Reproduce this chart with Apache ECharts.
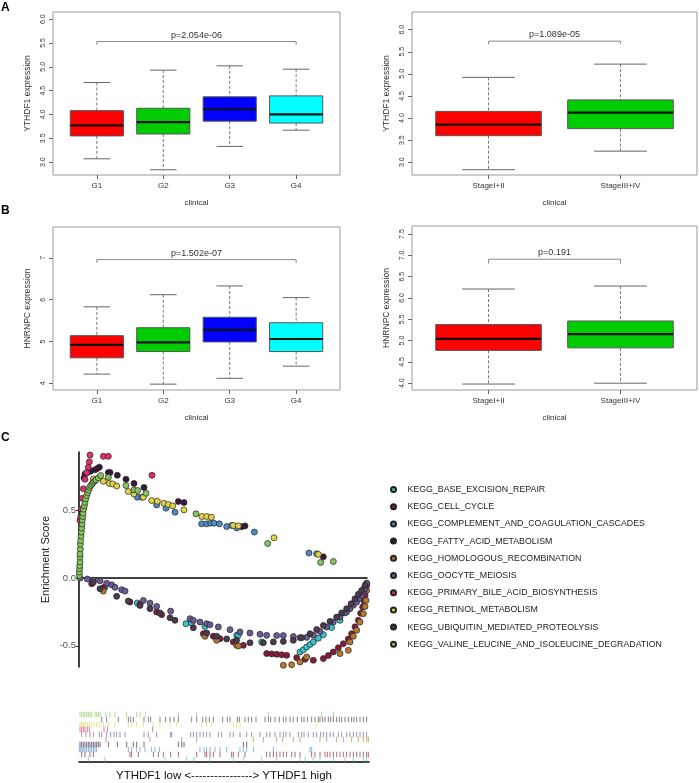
<!DOCTYPE html>
<html><head><meta charset="utf-8">
<script src="https://cdn.jsdelivr.net/npm/echarts@6/dist/echarts.min.js"></script>
<style>html,body{margin:0;padding:0;background:#fff}#c{width:699px;height:783px}</style>
</head><body><div id="c"></div>
<script>
// ---------------- DATA ----------------
const gradeCats = ['G1', 'G2', 'G3', 'G4'];
const stageCats = ['StageI+II', 'StageIII+IV'];
const gradeColors = ['#FF0000', '#00CD00', '#0000FF', '#00FFFF'];
const stageColors = ['#FF0000', '#00CD00'];
// [lower whisker, Q1, median, Q3, upper whisker]
const ythdf1Grade = [[3.07,3.55,3.77,4.08,4.67],[2.84,3.59,3.84,4.13,4.93],[3.33,3.86,4.11,4.37,5.02],[3.67,3.82,4.00,4.39,4.95]];
const ythdf1Stage = [[2.83,3.60,3.85,4.15,4.92],[3.25,3.76,4.12,4.41,5.22]];
const hnrnpcGrade = [[4.22,4.61,4.92,5.14,5.83],[3.98,4.76,4.98,5.33,6.12],[4.12,4.99,5.28,5.58,6.33],[4.41,4.76,5.06,5.45,6.05]];
const hnrnpcStage = [[3.98,4.77,5.04,5.375,6.21],[4.00,4.83,5.15,5.46,6.28]];
const pLabels = ['p=2.054e-06', 'p=1.089e-05', 'p=1.502e-07', 'p=0.191'];
const bracketY = [5.53, 5.74, 6.96, 6.91];
const bracketDrop = [5.46, 5.67, 6.88, 6.81];
const yTicksA = [3.0, 3.5, 4.0, 4.5, 5.0, 5.5, 6.0];
const yTicksBL = [4, 5, 6, 7];
const yTicksBR = [4.0, 4.5, 5.0, 5.5, 6.0, 6.5, 7.0, 7.5];
const esTicks = [-0.5, 0.0, 0.5];

const keggNames = ['KEGG_BASE_EXCISION_REPAIR','KEGG_CELL_CYCLE','KEGG_COMPLEMENT_AND_COAGULATION_CASCADES','KEGG_FATTY_ACID_METABOLISM','KEGG_HOMOLOGOUS_RECOMBINATION','KEGG_OOCYTE_MEIOSIS','KEGG_PRIMARY_BILE_ACID_BIOSYNTHESIS','KEGG_RETINOL_METABOLISM','KEGG_UBIQUITIN_MEDIATED_PROTEOLYSIS','KEGG_VALINE_LEUCINE_AND_ISOLEUCINE_DEGRADATION'];
const keggColors = ['#3EC3CC','#861B3A','#4F8CC4','#36183A','#B57A30','#6A5C98','#E0306E','#E2D34A','#4A3A4C','#86C65E'];

// running enrichment score points: [rank, ES]
const esBase = [[78,-0.066],[175,-0.184],[321,-0.337],[338,-0.332],[378,-0.357],[473,-0.423],[478,-0.423],[548,-0.472],[663,-0.546],[673,-0.53],[683,-0.509],[693,-0.49],[703,-0.472],[718,-0.445],[733,-0.418],[758,-0.365],[783,-0.312],[803,-0.25],[823,-0.189],[835,-0.15],[848,-0.116],[855,-0.08],[863,-0.037]];
const esCellCycle = [[38,-0.042],[73,-0.071],[153,-0.177],[183,-0.194],[233,-0.251],[248,-0.27],[373,-0.411],[403,-0.43],[423,-0.448],[463,-0.472],[493,-0.497],[563,-0.558],[578,-0.56],[593,-0.563],[608,-0.567],[623,-0.571],[653,-0.588],[678,-0.6],[703,-0.607],[733,-0.595],[748,-0.572],[763,-0.546],[778,-0.515],[793,-0.485],[808,-0.45],[818,-0.411],[828,-0.36],[838,-0.312],[845,-0.26],[851,-0.214],[855,-0.17],[858,-0.128],[861,-0.09],[863,-0.054]];
const esComplement = [[175,0.598],[188,0.598],[233,0.541],[261,0.517],[288,0.487],[368,0.401],[383,0.401],[395,0.406],[405,0.406],[421,0.401],[443,0.381],[458,0.389],[473,0.371],[526,0.34],[690,0.185],[713,0.18]];
const esFatty = [[15,0.74],[18,0.77],[25,0.78],[35,0.79],[48,0.80],[55,0.81],[61,0.82],[88,0.78],[93,0.78],[115,0.76],[141,0.73],[165,0.70],[195,0.67],[298,0.566],[315,0.558],[488,0.38],[498,0.386],[733,0.157]];
const esHomologous = [[73,-0.096],[378,-0.43],[413,-0.46],[473,-0.497],[478,-0.502],[613,-0.644],[638,-0.64],[663,-0.62],[683,-0.583],[783,-0.558],[808,-0.534],[813,-0.472],[823,-0.43],[833,-0.386],[843,-0.325],[853,-0.263],[858,-0.21],[861,-0.165],[863,-0.091]];
const esOocyte = [[3,0],[25,-0.007],[43,-0.015],[63,-0.02],[83,-0.038],[98,-0.05],[108,-0.068],[128,-0.086],[138,-0.096],[193,-0.165],[213,-0.185],[233,-0.209],[275,-0.244],[333,-0.30],[343,-0.312],[363,-0.325],[383,-0.337],[393,-0.345],[418,-0.361],[453,-0.381],[483,-0.398],[513,-0.406],[543,-0.415],[563,-0.423],[593,-0.425],[613,-0.425],[643,-0.432],[663,-0.44],[683,-0.438],[703,-0.423],[723,-0.395],[743,-0.362],[763,-0.325],[783,-0.288],[798,-0.257],[813,-0.226],[823,-0.2],[833,-0.177],[841,-0.15],[848,-0.128],[853,-0.1],[858,-0.079],[863,-0.042]];
const esBile = [[3,0.426],[5,0.45],[7,0.51],[10,0.59],[13,0.66],[18,0.73],[23,0.78],[28,0.82],[31,0.86],[33,0.91],[73,0.90],[88,0.90],[219,0.76]];
const esRetinol = [[43,0.733],[73,0.716],[91,0.70],[101,0.696],[113,0.681],[148,0.64],[165,0.622],[193,0.598],[218,0.573],[235,0.568],[255,0.553],[268,0.544],[281,0.534],[315,0.504],[369,0.455],[383,0.455],[397,0.45],[463,0.389],[478,0.386],[585,0.298],[718,0.175]];
const esUbiquitin = [[43,-0.03],[63,-0.079],[113,-0.135],[148,-0.17],[183,-0.202],[213,-0.226],[243,-0.258],[273,-0.293],[288,-0.312],[343,-0.367],[383,-0.406],[413,-0.43],[443,-0.45],[473,-0.46],[513,-0.478],[553,-0.478],[583,-0.472],[613,-0.468],[643,-0.46],[668,-0.44],[693,-0.411],[713,-0.38],[733,-0.35],[753,-0.32],[773,-0.288],[788,-0.257],[803,-0.226],[816,-0.19],[828,-0.153],[838,-0.12],[848,-0.091],[858,-0.054]];
const esValine = [[1,0.02],[1,0.044],[2,0.07],[2,0.093],[3,0.12],[3,0.155],[3,0.18],[4,0.216],[4,0.25],[5,0.278],[6,0.31],[7,0.34],[8,0.37],[9,0.40],[10,0.43],[11,0.455],[12,0.48],[14,0.51],[16,0.535],[18,0.56],[20,0.585],[23,0.61],[26,0.63],[29,0.65],[32,0.67],[35,0.684],[39,0.695],[43,0.708],[47,0.717],[51,0.726],[58,0.74],[65,0.758],[88,0.745],[141,0.684],[165,0.652],[176,0.647],[201,0.627],[351,0.475],[566,0.256],[725,0.116],[763,0.123]];
const esSeries = [esBase, esCellCycle, esComplement, esFatty, esHomologous, esOocyte, esBile, esRetinol, esUbiquitin, esValine];

// gene-set hit ranks (rug rows, top to bottom)
const rugOrder = [9, 8, 7, 6, 5, 4, 3, 2, 1, 0];
const hitsValine = [3,8,13,18,23,28,33,38,48,53,58,63,81,93,108,143,173,183,200,298,353,568,728,763];
const hitsUbiquitin = [68,83,118,148,155,163,195,208,215,243,260,273,285,298,338,353,371,381,391,403,431,445,453,475,481,498,508,518,531,558,568,575,588,601,613,621,633,643,655,668,675,685,698,708,718,723,731,738,748,755,763,773,781,788,798,808,818,825,833,843,853,863];
const hitsRetinol = [3,8,13,18,25,31,38,45,53,61,73,88,108,148,158,173,193,223,243,273,293,368,383,398,463,473,483,713];
const hitsBile = [3,8,13,18,25,31,75,85,221];
const hitsOocyte = [8,21,33,43,61,68,83,95,105,113,123,138,195,208,233,275,278,335,343,353,363,373,383,393,418,428,453,463,483,503,518,543,563,573,588,603,613,621,633,658,668,675,688,703,713,725,733,743,753,763,778,788,803,813,823,833,843,853,863];
const hitsHomologous = [81,213,308,353,523,553,593,611,643,663,723,743,773,793,818,838,853,863,868];
const hitsFatty = [3,8,13,18,23,28,33,38,43,48,53,58,63,88,115,143,163,173,195,298,308,315,493,503];
const hitsComplement = [1,5,9,13,18,23,28,33,38,43,48,53,148,158,173,183,198,218,228,241,363,375,383,393,408,423,443,483,493,503,523,583,693,698];
const hitsCellCycle = [8,18,33,43,153,158,178,223,238,253,275,298,353,378,383,393,403,423,458,463,478,498,563,573,583,593,603,613,623,638,648,663,698,708,723,738,745,753,763,773,783,793,803,813,823,833,843,853,863,868];
const hitsBase = [28,78,258,323,345,393,463,493,548,593,663,678,703,723,763,798,823,853,863];
const hitsByRow = [hitsValine, hitsUbiquitin, hitsRetinol, hitsBile, hitsOocyte, hitsHomologous, hitsFatty, hitsComplement, hitsCellCycle, hitsBase];
const rugSetIndex = [9, 8, 7, 6, 5, 4, 3, 2, 1, 0];
const rankMax = 870;
const rugTitle = 'YTHDF1 low <----------------> YTHDF1 high';

// ---------------- CHART ----------------
const FONT = '"Liberation Sans", Arial, Helvetica, sans-serif';
const chart = echarts.init(document.getElementById('c'), null, {renderer: 'canvas'});

const grids = [
  {left: 53, top: 12, width: 287, height: 163},
  {left: 412, top: 12, width: 285, height: 163},
  {left: 53, top: 227, width: 287, height: 163},
  {left: 412, top: 226, width: 285, height: 164},
  {left: 79, top: 452, width: 288, height: 215},
  {left: 79, top: 712, width: 290, height: 56}
].map(g => Object.assign({show: g.top < 400, borderColor: '#9a9a9a', borderWidth: 1, containLabel: false}, g));

function catX(g, cats) {
  const n = cats.length;
  const vals = cats.map((_, i) => i + 1);
  return {
    gridIndex: g, type: 'value', min: 0.5 - 0.04 * n, max: n + 0.5 + 0.04 * n,
    axisLine: {show: false}, splitLine: {show: false},
    axisTick: {show: true, customValues: vals, length: 4, lineStyle: {color: '#666'}},
    axisLabel: {show: true, customValues: vals, formatter: v => cats[Math.round(v) - 1] || '', fontSize: 8, color: '#333', fontFamily: FONT, margin: 7},
    name: 'clinical', nameLocation: 'middle', nameGap: 24,
    nameTextStyle: {fontSize: 8, color: '#333', fontFamily: FONT}
  };
}
function valY(g, min, max, ticks, dec, name) {
  return {
    gridIndex: g, type: 'value', min: min, max: max,
    axisLine: {show: false}, splitLine: {show: false},
    axisTick: {show: true, customValues: ticks, length: 4, lineStyle: {color: '#666'}},
    axisLabel: {show: true, customValues: ticks, formatter: v => v.toFixed(dec), rotate: 90, fontSize: 7, color: '#333', fontFamily: FONT, margin: 6},
    name: name, nameLocation: 'middle', nameGap: 21, nameRotate: 90,
    nameTextStyle: {fontSize: 8.5, color: '#333', fontFamily: FONT}
  };
}

function boxSeries(g, stats, colors) {
  return {
    type: 'custom', xAxisIndex: g, yAxisIndex: g, silent: true, animation: false,
    data: stats.map((s, i) => [i + 1].concat(s)),
    encode: {x: 0, y: [1, 2, 3, 4, 5]},
    renderItem: function (params, api) {
      const x = api.value(0), lo = api.value(1), q1 = api.value(2), md = api.value(3), q3 = api.value(4), hi = api.value(5);
      const c = (a, b) => api.coord([a, b]);
      const cx = c(x, md)[0];
      const bl = c(x - 0.4, q3), br = c(x + 0.4, q1);
      const capL = c(x - 0.2, lo)[0], capR = c(x + 0.2, lo)[0];
      const yLo = c(x, lo)[1], yHi = c(x, hi)[1], yQ1 = c(x, q1)[1], yQ3 = c(x, q3)[1], yMd = c(x, md)[1];
      const dash = {stroke: '#666', lineWidth: 0.9, lineDash: [3, 2]};
      const solid = {stroke: '#666', lineWidth: 1};
      return {type: 'group', children: [
        {type: 'line', shape: {x1: cx, y1: yHi, x2: cx, y2: yQ3}, style: dash},
        {type: 'line', shape: {x1: cx, y1: yQ1, x2: cx, y2: yLo}, style: dash},
        {type: 'line', shape: {x1: capL, y1: yHi, x2: capR, y2: yHi}, style: solid},
        {type: 'line', shape: {x1: capL, y1: yLo, x2: capR, y2: yLo}, style: solid},
        {type: 'rect', shape: {x: bl[0], y: bl[1], width: br[0] - bl[0], height: br[1] - bl[1]}, style: {fill: colors[params.dataIndex], stroke: '#555', lineWidth: 1}},
        {type: 'line', shape: {x1: bl[0], y1: yMd, x2: br[0], y2: yMd}, style: {stroke: '#111', lineWidth: 2.2}}
      ]};
    }
  };
}
function bracketSeries(g, n, idx) {
  return {
    type: 'custom', xAxisIndex: g, yAxisIndex: g, silent: true, animation: false,
    data: [[1, n, bracketY[idx], bracketDrop[idx]]],
    encode: {x: [0, 1], y: [2, 3]},
    renderItem: function (params, api) {
      const a = api.coord([api.value(0), api.value(2)]);
      const b = api.coord([api.value(1), api.value(2)]);
      const d = api.coord([api.value(0), api.value(3)]);
      const st = {stroke: '#8a8a8a', lineWidth: 1};
      return {type: 'group', children: [
        {type: 'line', shape: {x1: a[0], y1: a[1], x2: b[0], y2: b[1]}, style: st},
        {type: 'line', shape: {x1: a[0], y1: a[1], x2: a[0], y2: d[1]}, style: st},
        {type: 'line', shape: {x1: b[0], y1: b[1], x2: b[0], y2: d[1]}, style: st},
        {type: 'text', x: (a[0] + b[0]) / 2, y: a[1] - 2, style: {text: pLabels[idx], fill: '#333', font: '9px ' + FONT, align: 'center', verticalAlign: 'bottom'}}
      ]};
    }
  };
}

const xAxes = [
  catX(0, gradeCats), catX(1, stageCats), catX(2, gradeCats), catX(3, stageCats),
  {gridIndex: 4, type: 'value', min: 0, max: 864, axisLine: {show: true, onZero: true, lineStyle: {color: '#000', width: 1.5}}, axisTick: {show: false}, axisLabel: {show: false}, splitLine: {show: false}},
  {gridIndex: 5, type: 'value', min: 0, max: rankMax, axisLine: {show: true, lineStyle: {color: '#000', width: 1.5}}, axisTick: {show: false}, axisLabel: {show: false}, splitLine: {show: false},
   name: rugTitle, nameLocation: 'middle', nameGap: 8, nameTextStyle: {fontSize: 11.5, color: '#111', fontFamily: FONT}}
];
const yAxes = [
  valY(0, 2.73, 6.15, yTicksA, 1, 'YTHDF1 expression'),
  valY(1, 2.71, 6.40, yTicksA, 1, 'YTHDF1 expression'),
  valY(2, 3.84, 7.74, yTicksBL, 0, 'HNRNPC expression'),
  valY(3, 3.84, 7.69, yTicksBR, 1, 'HNRNPC expression'),
  {gridIndex: 4, type: 'value', min: -0.657, max: 0.932,
   axisLine: {show: true, lineStyle: {color: '#000', width: 1.5}},
   axisTick: {show: true, customValues: esTicks, length: 3, lineStyle: {color: '#333'}},
   axisLabel: {show: true, customValues: esTicks, formatter: v => v.toFixed(1), fontSize: 9.5, color: '#555', fontFamily: FONT, margin: 3},
   splitLine: {show: false},
   name: 'Enrichment Score', nameLocation: 'middle', nameGap: 28, nameRotate: 90,
   nameTextStyle: {fontSize: 11, color: '#222', fontFamily: FONT}},
  {gridIndex: 5, type: 'category', data: rugOrder.map(String), inverse: true, show: false}
];

const series = [
  boxSeries(0, ythdf1Grade, gradeColors), bracketSeries(0, 4, 0),
  boxSeries(1, ythdf1Stage, stageColors), bracketSeries(1, 2, 1),
  boxSeries(2, hnrnpcGrade, gradeColors), bracketSeries(2, 4, 2),
  boxSeries(3, hnrnpcStage, stageColors), bracketSeries(3, 2, 3)
];
keggNames.forEach((name, i) => {
  series.push({
    type: 'scatter', name: name, xAxisIndex: 4, yAxisIndex: 4, data: esSeries[i],
    symbol: 'circle', symbolSize: 6, animation: false,
    itemStyle: {color: keggColors[i], borderColor: '#222', borderWidth: 0.7, opacity: 1}
  });
});
hitsByRow.forEach((hits, r) => {
  const si = rugSetIndex[r];
  series.push({
    type: 'scatter', name: keggNames[si] + ' hits', xAxisIndex: 5, yAxisIndex: 5,
    data: hits.map(h => [h, String(rugOrder[r])]),
    symbol: 'rect', symbolSize: [1, 5.4], animation: false, silent: true,
    itemStyle: {color: keggColors[si], opacity: 0.65}
  });
});

const option = {
  backgroundColor: '#fff', animation: false,
  textStyle: {fontFamily: FONT},
  grid: grids, xAxis: xAxes, yAxis: yAxes, series: series,
  legend: {
    data: keggNames, orient: 'vertical', left: 385, top: 480,
    itemWidth: 14, itemHeight: 5, itemGap: 8.2, icon: 'circle', selectedMode: false,
    textStyle: {fontSize: 8.8, color: '#222', fontFamily: FONT, lineHeight: 9, padding: [0, 0, 0, 2]}
  },
  graphic: [
    {type: 'text', left: 1, top: 2, style: {text: 'A', font: 'bold 12px ' + FONT, fill: '#000'}},
    {type: 'text', left: 1, top: 205, style: {text: 'B', font: 'bold 12px ' + FONT, fill: '#000'}},
    {type: 'text', left: 1, top: 432, style: {text: 'C', font: 'bold 12px ' + FONT, fill: '#000'}}
  ]
};
chart.setOption(option);
</script></body></html>
